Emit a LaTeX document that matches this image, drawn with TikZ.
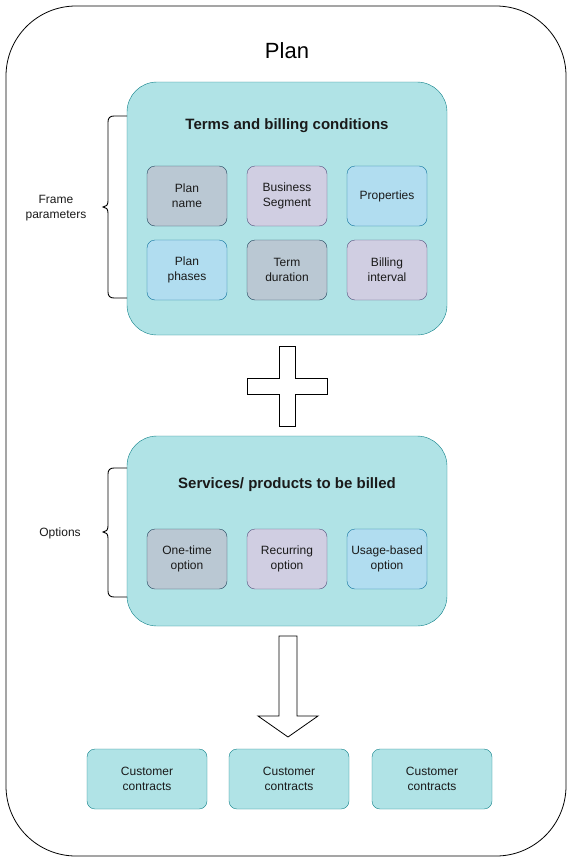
\documentclass[tikz,border=0pt]{standalone}
\usepackage{fontspec}
\setmainfont{Liberation Sans}
\definecolor{tealfill}{HTML}{B0E3E6}
\definecolor{tealline}{HTML}{0E8088}
\definecolor{grayfill}{HTML}{BAC8D3}
\definecolor{grayline}{HTML}{23445D}
\definecolor{purpfill}{HTML}{D0CEE2}
\definecolor{purpline}{HTML}{56517E}
\definecolor{bluefill}{HTML}{B1DDF0}
\definecolor{blueline}{HTML}{10739E}
\definecolor{txt}{HTML}{1A1A1A}
\begin{document}
\begin{tikzpicture}[x=1pt,y=-1pt,
  panel/.style={draw=tealline,fill=tealfill,rounded corners=30pt,minimum width=320pt,inner sep=0pt},
  small/.style={rounded corners=8pt,minimum width=80pt,minimum height=60pt,inner sep=0pt,align=center,font=\fontsize{12}{15}\selectfont,text=txt},
  graybox/.style={small,draw=grayline,fill=grayfill},
  purpbox/.style={small,draw=purpline,fill=purpfill},
  bluebox/.style={small,draw=blueline,fill=bluefill},
  contract/.style={small,draw=tealline,fill=tealfill,minimum width=120pt},
  title/.style={font=\bfseries\fontsize{15}{18}\selectfont,text=txt},
  side/.style={font=\fontsize{12}{15}\selectfont,text=txt,align=center},
  brace/.style={draw=black,line width=0.9pt}]
\useasboundingbox (0,0) rectangle (571,862);
% outer frame
\node[draw=black,line width=0.8pt,rounded corners=70pt,minimum width=560pt,minimum height=850pt,inner sep=0pt] (outer) at (286,431) {};
\node[font=\fontsize{22}{26}\selectfont,text=black] (plan) at (287,51) {Plan};
% panel 1
\node[panel,minimum height=253pt] (p1) at (287,208.5) {};
\node[title] (t1) at (287,126) {Terms and billing conditions};
\node[graybox] (b11) at (187,196) {Plan\\name};
\node[purpbox] (b12) at (287,196) {Business\\Segment};
\node[bluebox] (b13) at (387,196) {Properties};
\node[bluebox] (b21) at (187,270) {Plan\\phases};
\node[graybox] (b22) at (287,270) {Term\\duration};
\node[purpbox] (b23) at (387,270) {Billing\\interval};
% brace 1
\draw[brace] (127,116) -- (114,116) .. controls (110,116) and (108,118) .. (108,122) -- (108,201) .. controls (108,205) and (106,207) .. (103,207) .. controls (106,207) and (108,209) .. (108,213) -- (108,292) .. controls (108,296) and (110,298) .. (114,298) -- (127,298);
\node[side] (fp) at (56,208) {Frame\\parameters};
% plus
\draw[line width=0.8pt,fill=white] (279,346) -- (295,346) -- (295,378) -- (327,378) -- (327,394) -- (295,394) -- (295,426) -- (279,426) -- (279,394) -- (247,394) -- (247,378) -- (279,378) -- cycle;
% panel 2
\node[panel,minimum height=190pt] (p2) at (287,531) {};
\node[title] (t2) at (287,485) {Services/ products to be billed};
\node[graybox] (o1) at (187,559) {One-time\\option};
\node[purpbox] (o2) at (287,559) {Recurring\\option};
\node[bluebox] (o3) at (387,559) {Usage-based\\option};
% brace 2
\draw[brace] (127,468) -- (114,468) .. controls (110,468) and (108,470) .. (108,474) -- (108,526) .. controls (108,530) and (106,532) .. (103,532) .. controls (106,532) and (108,534) .. (108,538) -- (108,591) .. controls (108,595) and (110,597) .. (114,597) -- (127,597);
\node[side] (opt) at (60,533) {Options};
% arrow
\draw[line width=0.8pt,fill=white] (279,636) -- (297,636) -- (297,716) -- (318,716) -- (288,737) -- (258,716) -- (279,716) -- cycle;
% contracts
\node[contract] (c1) at (147,779) {Customer\\contracts};
\node[contract] (c2) at (289,779) {Customer\\contracts};
\node[contract] (c3) at (432,779) {Customer\\contracts};
\end{tikzpicture}
\end{document}
